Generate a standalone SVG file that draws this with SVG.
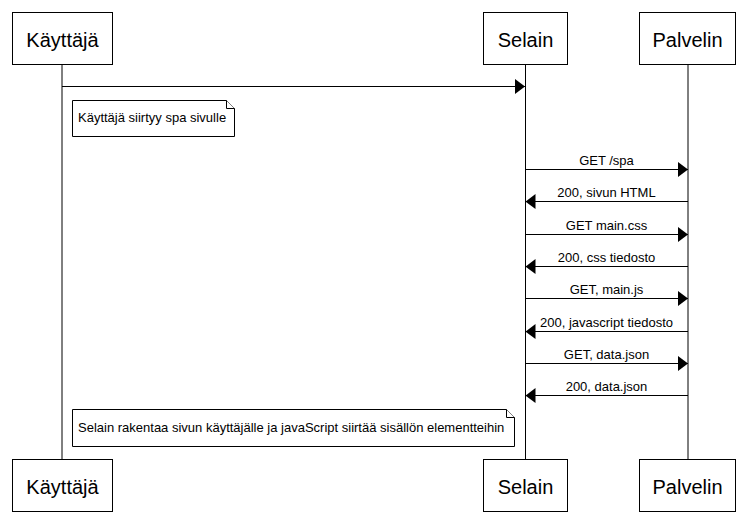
<svg xmlns="http://www.w3.org/2000/svg" width="752" height="516" viewBox="0 0 752 516">
<style>
  .box{fill:#fff;stroke:#000;stroke-width:1}
  .life{stroke:#000;stroke-width:1;fill:none}
  .msg{stroke:#000;stroke-width:1;fill:none;marker-end:url(#ah)}
  .note{fill:#fff;stroke:#000;stroke-width:1}
  .hdr{font-family:"Liberation Sans",Arial,sans-serif;font-size:20px;text-anchor:middle;fill:#000}
  .lbl{font-family:"Liberation Sans",Arial,sans-serif;font-size:13px;text-anchor:middle;fill:#000}
  .ntxt{font-family:"Liberation Sans",Arial,sans-serif;font-size:13px;fill:#000}
</style>
<defs>
  <marker id="ah" viewBox="0 0 10 15" refX="10" refY="7.5" markerWidth="10" markerHeight="15" markerUnits="userSpaceOnUse" orient="auto">
    <path d="M0,0 L10,7.5 L0,15 Z" fill="#000"/>
  </marker>
</defs>
<rect width="752" height="516" fill="#fff"/>

<g id="lifelines">
  <line class="life" x1="62" y1="65" x2="62" y2="459"/>
  <line class="life" x1="525.5" y1="65" x2="525.5" y2="459"/>
  <line class="life" x1="688" y1="65" x2="688" y2="459"/>
</g>

<g id="kayttaja">
  <rect class="box" x="12.5" y="12.5" width="100" height="52"/>
  <text class="hdr" x="62.5" y="47">Käyttäjä</text>
  <rect class="box" x="12.5" y="459.5" width="100" height="52"/>
  <text class="hdr" x="62.5" y="494">Käyttäjä</text>
</g>

<g id="selain">
  <rect class="box" x="483.5" y="12.5" width="84" height="52"/>
  <text class="hdr" x="525.5" y="47">Selain</text>
  <rect class="box" x="483.5" y="459.5" width="84" height="52"/>
  <text class="hdr" x="525.5" y="494">Selain</text>
</g>

<g id="palvelin">
  <rect class="box" x="639.5" y="12.5" width="96" height="52"/>
  <text class="hdr" x="687.5" y="47">Palvelin</text>
  <rect class="box" x="639.5" y="459.5" width="96" height="52"/>
  <text class="hdr" x="687.5" y="494">Palvelin</text>
</g>

<g id="note1">
  <path class="note" d="M72.5,100.5 H226.5 L234.5,108.5 V136.5 H72.5 Z"/>
  <path class="note" d="M226.5,100.5 V108.5 H234.5" fill="none"/>
  <text class="ntxt" x="78" y="122">Käyttäjä siirtyy spa sivulle</text>
</g>

<g id="note2">
  <path class="note" d="M72.5,409.5 H506.5 L514.5,417.5 V446.5 H72.5 Z"/>
  <path class="note" d="M506.5,409.5 V417.5 H514.5" fill="none"/>
  <text class="ntxt" x="78" y="432">Selain rakentaa sivun käyttäjälle ja javaScript siirtää sisällön elementteihin</text>
</g>

<g id="connectors">
  <line class="msg" x1="62" y1="86.5" x2="525" y2="86.5"/>

  <line class="msg" x1="525.5" y1="169.5" x2="688" y2="169.5"/>
  <text class="lbl" x="606.5" y="165">GET /spa</text>

  <line class="msg" x1="688" y1="201.5" x2="525.5" y2="201.5"/>
  <text class="lbl" x="606.5" y="197">200, sivun HTML</text>

  <line class="msg" x1="525.5" y1="234.5" x2="688" y2="234.5"/>
  <text class="lbl" x="606.5" y="230">GET main.css</text>

  <line class="msg" x1="688" y1="266.5" x2="525.5" y2="266.5"/>
  <text class="lbl" x="606.5" y="262">200, css tiedosto</text>

  <line class="msg" x1="525.5" y1="298.5" x2="688" y2="298.5"/>
  <text class="lbl" x="606.5" y="294">GET, main.js</text>

  <line class="msg" x1="688" y1="331.5" x2="525.5" y2="331.5"/>
  <text class="lbl" x="606.5" y="327">200, javascript tiedosto</text>

  <line class="msg" x1="525.5" y1="363.5" x2="688" y2="363.5"/>
  <text class="lbl" x="606.5" y="359">GET, data.json</text>

  <line class="msg" x1="688" y1="395.5" x2="525.5" y2="395.5"/>
  <text class="lbl" x="606.5" y="391">200, data.json</text>
</g>
</svg>
